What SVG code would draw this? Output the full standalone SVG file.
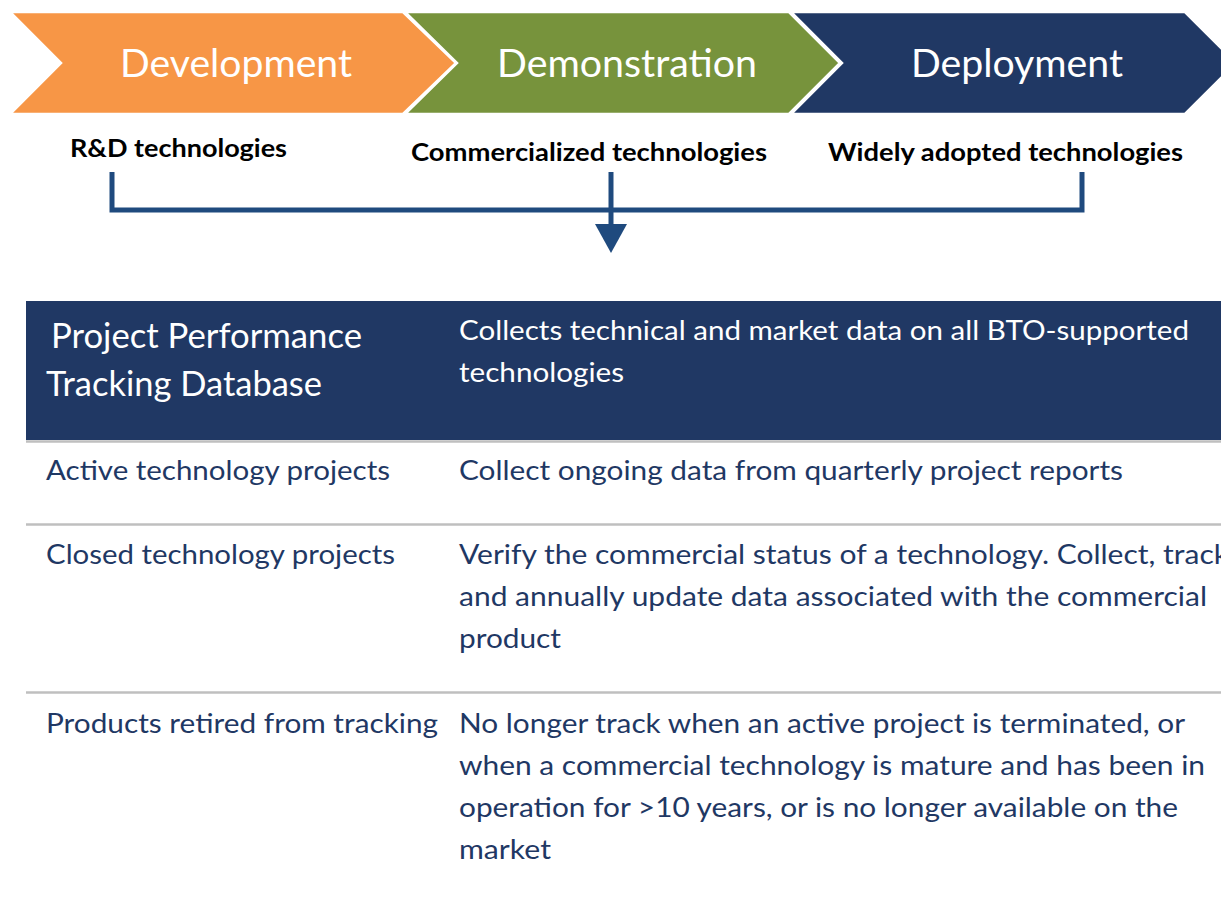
<svg xmlns="http://www.w3.org/2000/svg" width="1221" height="898" viewBox="0 0 1221 898">
<style>
.chev{stroke:#ffffff;stroke-width:2.5;stroke-linejoin:miter}
.ct{font-family:Lato,"Open Sans","Liberation Sans",sans-serif;font-size:39px;fill:#ffffff}
.st{font-family:Lato,"Open Sans","Liberation Sans",sans-serif;font-size:24px;font-weight:bold;fill:#000000}
.hl{font-family:Lato,"Open Sans","Liberation Sans",sans-serif;font-size:35px;fill:#ffffff}
.hr{font-family:Lato,"Open Sans","Liberation Sans",sans-serif;font-size:27px;fill:#ffffff}
.rt{font-family:Lato,"Open Sans","Liberation Sans",sans-serif;font-size:27px;fill:#1F3864}
.conn{fill:none;stroke:#1F4A7E;stroke-width:5}
.sep{stroke:#BFBFBF;stroke-width:2.5}
</style>
<defs>
<marker id="arr" markerUnits="userSpaceOnUse" markerWidth="30" markerHeight="32" viewBox="0 0 30 32" refX="0" refY="16" orient="auto">
<path d="M0,0 L29,16 L0,32 Z" fill="#1F4A7E"/>
</marker>
</defs>
<rect width="1221" height="898" fill="#ffffff"/>
<g id="development">
<path class="chev" d="M10,12 L403,12 L456,63 L403,114 L10,114 L61,63 Z" fill="#F79646"/>
<text class="ct" x="120" y="77" textLength="232" lengthAdjust="spacingAndGlyphs">Development</text>
</g>
<g id="demonstration">
<path class="chev" d="M405,12 L789,12 L840,63 L789,114 L405,114 L457,63 Z" fill="#77933C"/>
<text class="ct" x="497" y="77" textLength="260" lengthAdjust="spacingAndGlyphs">Demonstration</text>
</g>
<g id="deployment">
<path class="chev" d="M791,12 L1185,12 L1236,63 L1185,114 L791,114 L842,63 Z" fill="#203864"/>
<text class="ct" x="911" y="77" textLength="212" lengthAdjust="spacingAndGlyphs">Deployment</text>
</g>
<g id="rd-label"><text class="st" x="70" y="157" textLength="217" lengthAdjust="spacingAndGlyphs">R&amp;D technologies</text></g>
<g id="commercialized-label"><text class="st" x="411" y="161" textLength="356" lengthAdjust="spacingAndGlyphs">Commercialized technologies</text></g>
<g id="widely-label"><text class="st" x="828" y="161" textLength="355" lengthAdjust="spacingAndGlyphs">Widely adopted technologies</text></g>
<g id="connectors">
<path class="conn" d="M112,172 V210 H1082 V172"/>
<path class="conn" d="M611,172 V224" marker-end="url(#arr)"/>
</g>
<g id="table-header">
<rect x="26" y="301" width="1195" height="139" fill="#203864"/>
<text class="hl" x="51" y="348" textLength="311" lengthAdjust="spacingAndGlyphs">Project Performance</text>
<text class="hl" x="46" y="396" textLength="276" lengthAdjust="spacingAndGlyphs">Tracking Database</text>
<text class="hr" x="459" y="340" textLength="730" lengthAdjust="spacingAndGlyphs">Collects technical and market data on all BTO-supported</text>
<text class="hr" x="459" y="382" textLength="165" lengthAdjust="spacingAndGlyphs">technologies</text>
</g>
<g id="separators">
<line class="sep" x1="26" y1="441.5" x2="1221" y2="441.5"/>
<line class="sep" x1="26" y1="524.5" x2="1221" y2="524.5"/>
<line class="sep" x1="26" y1="692.5" x2="1221" y2="692.5"/>
</g>
<g id="row-active">
<text class="rt" x="46" y="480" textLength="344" lengthAdjust="spacingAndGlyphs">Active technology projects</text>
<text class="rt" x="459" y="480" textLength="664" lengthAdjust="spacingAndGlyphs">Collect ongoing data from quarterly project reports</text>
</g>
<g id="row-closed">
<text class="rt" x="46" y="564" textLength="349" lengthAdjust="spacingAndGlyphs">Closed technology projects</text>
<text class="rt" x="459" y="564" textLength="770" lengthAdjust="spacingAndGlyphs">Verify the commercial status of a technology. Collect, track</text>
<text class="rt" x="459" y="606" textLength="748" lengthAdjust="spacingAndGlyphs">and annually update data associated with the commercial</text>
<text class="rt" x="459" y="648" textLength="102" lengthAdjust="spacingAndGlyphs">product</text>
</g>
<g id="row-retired">
<text class="rt" x="46" y="733" textLength="392" lengthAdjust="spacingAndGlyphs">Products retired from tracking</text>
<text class="rt" x="459" y="733" textLength="726" lengthAdjust="spacingAndGlyphs">No longer track when an active project is terminated, or</text>
<text class="rt" x="459" y="775" textLength="746" lengthAdjust="spacingAndGlyphs">when a commercial technology is mature and has been in</text>
<text class="rt" x="459" y="817" textLength="719" lengthAdjust="spacingAndGlyphs">operation for &gt;10 years, or is no longer available on the</text>
<text class="rt" x="459" y="859" textLength="92" lengthAdjust="spacingAndGlyphs">market</text>
</g>
</svg>
